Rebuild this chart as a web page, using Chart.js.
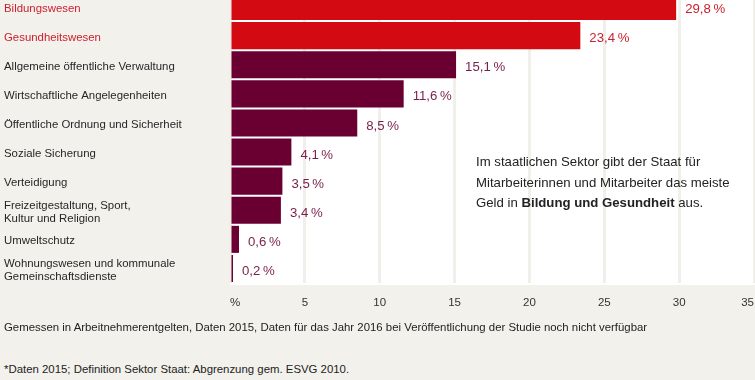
<!DOCTYPE html>
<html>
<head>
<meta charset="utf-8">
<script src="https://cdn.jsdelivr.net/npm/chart.js@4/dist/chart.umd.min.js"></script>
<style>
  html, body { margin:0; padding:0; background:#f3f1ec; width:755px; height:380px; overflow:hidden; }
  body { position:relative; font-family:"Liberation Sans", Arial, sans-serif; }
  #wrap { position:absolute; left:0; top:-8px; width:755px; height:330px; }
  .note { position:absolute; left:476px; top:152px; font-size:13.2px; line-height:20.5px; color:#222; }
  .foot { position:absolute; left:4px; font-size:11.4px; color:#222; white-space:nowrap; }
</style>
</head>
<body>
<div id="wrap"><canvas id="c" width="755" height="330"></canvas></div>
<div class="note">Im staatlichen Sektor gibt der Staat für<br>Mitarbeiterinnen und Mitarbeiter das meiste<br>Geld in <b>Bildung und Gesundheit</b> aus.</div>
<div class="foot" style="top:321px;">Gemessen in Arbeitnehmerentgelten, Daten 2015, Daten für das Jahr 2016 bei Veröffentlichung der Studie noch nicht verfügbar</div>
<div class="foot" style="top:363px;">*Daten 2015; Definition Sektor Staat: Abgrenzung gem. ESVG 2010.</div>
<script>
const categories = [
  "Bildungswesen",
  "Gesundheitswesen",
  "Allgemeine öffentliche Verwaltung",
  "Wirtschaftliche Angelegenheiten",
  "Öffentliche Ordnung und Sicherheit",
  "Soziale Sicherung",
  "Verteidigung",
  ["Freizeitgestaltung, Sport,", "Kultur und Religion"],
  "Umweltschutz",
  ["Wohnungswesen und kommunale", "Gemeinschaftsdienste"]
];
const values = [29.8, 23.4, 15.1, 11.6, 8.5, 4.1, 3.5, 3.4, 0.6, 0.2];
const highlighted = [true, true, false, false, false, false, false, false, false, false];
const xTickLabels = {0: "%", 5: "5", 10: "10", 15: "15", 20: "20", 25: "25", 30: "30", 35: "35"};

const RED = "#d40a12", MAROON = "#6a0032";
const RED_TXT = "#cc2030", MAROON_TXT = "#7a1e48", LABEL_TXT = "#262626";
const FONT = "'Liberation Sans', Arial, sans-serif";

const plotBg = {
  id: "plotBg",
  beforeDraw(chart) {
    const {ctx, chartArea: a} = chart;
    ctx.save();
    ctx.fillStyle = "#ffffff";
    ctx.fillRect(a.left, a.top, a.right - a.left + 2, a.bottom - a.top + 2);
    ctx.restore();
  }
};

const valueLabels = {
  id: "valueLabels",
  afterDatasetsDraw(chart) {
    const {ctx} = chart;
    const meta = chart.getDatasetMeta(0);
    ctx.save();
    ctx.font = "13.2px " + FONT;
    ctx.textBaseline = "middle";
    ctx.textAlign = "left";
    meta.data.forEach((bar, i) => {
      ctx.fillStyle = highlighted[i] ? RED_TXT : MAROON_TXT;
      const txt = values[i].toFixed(1).replace(".", ",") + "\u2009%";
      ctx.fillText(txt, bar.x + 9, bar.y + 3);
    });
    ctx.restore();
  }
};

new Chart(document.getElementById("c"), {
  type: "bar",
  data: {
    labels: categories,
    datasets: [{
      data: values,
      backgroundColor: highlighted.map(h => h ? RED : MAROON),
      borderWidth: 0,
      categoryPercentage: 1.0,
      barPercentage: 0.93
    }]
  },
  options: {
    indexAxis: "y",
    responsive: false,
    animation: false,
    devicePixelRatio: 1,
    layout: { padding: { left: 4, right: 1, top: 0, bottom: 0 } },
    plugins: { legend: { display: false }, tooltip: { enabled: false } },
    scales: {
      x: {
        min: 0, max: 35,
        afterFit(s) { s.height = 39; s.paddingLeft = 0; s.paddingRight = 0; },
        afterBuildTicks(s) { s.ticks = Object.keys(xTickLabels).map(v => ({value: +v})); },
        border: { display: false },
        grid: { color: "#f1efe9", lineWidth: 3, drawTicks: false },
        ticks: {
          padding: 13,
          align: "inner",
          maxRotation: 0,
          autoSkip: false,
          color: "#333",
          font: { family: FONT, size: 11.5 },
          callback: v => xTickLabels[v]
        }
      },
      y: {
        afterFit(s) { s.width = 226; s.paddingTop = 0; s.paddingBottom = 0; },
        border: { display: false },
        grid: { display: false },
        ticks: {
          crossAlign: "far",
          autoSkip: false,
          labelOffset: 2,
          color: ctx => highlighted[ctx.index] ? RED_TXT : LABEL_TXT,
          font: { family: FONT, size: 11.4, lineHeight: 1.2 }
        }
      }
    }
  },
  plugins: [plotBg, valueLabels]
});
</script>
</body>
</html>
